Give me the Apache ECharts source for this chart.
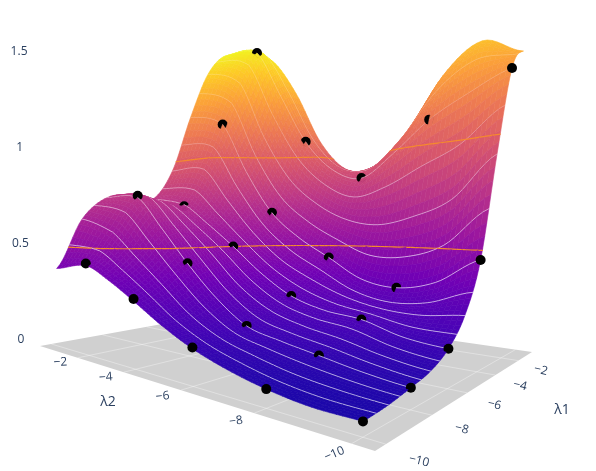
<!DOCTYPE html>
<html>
<head>
<meta charset="utf-8">
<script src="https://cdn.jsdelivr.net/npm/echarts@6/dist/echarts.min.js"></script>
<style>html,body{margin:0;background:#fff}#main{width:596px;height:471px}</style>
</head>
<body>
<div id="main"></div>
<script>
// values
var lambda1 = [-10, -9, -8, -7, -6, -5, -4, -3, -2, -1];
var lambda2 = [-10, -9, -8, -7, -6, -5, -4, -3, -2, -0.5];
// one row per lambda1, one column per lambda2
var surfaceZ = [
  [0.05, 0.05, 0.07, 0.105, 0.155, 0.225, 0.31, 0.39, 0.45, 0.42],
  [0.06, 0.07, 0.09, 0.125, 0.17, 0.25, 0.37, 0.49, 0.61, 0.68],
  [0.08, 0.10, 0.13, 0.16, 0.20, 0.31, 0.46, 0.63, 0.79, 0.80],
  [0.105, 0.13, 0.17, 0.20, 0.25, 0.35, 0.50, 0.64, 0.77, 0.82],
  [0.16, 0.18, 0.23, 0.25, 0.30, 0.40, 0.53, 0.65, 0.76, 0.80],
  [0.27, 0.25, 0.26, 0.30, 0.37, 0.46, 0.60, 0.78, 0.97, 0.98],
  [0.49, 0.38, 0.34, 0.37, 0.47, 0.57, 0.71, 0.95, 1.25, 1.33],
  [0.95, 0.76, 0.68, 0.64, 0.67, 0.76, 0.91, 1.17, 1.52, 1.63],
  [1.35, 1.27, 1.17, 1.02, 0.90, 0.96, 1.14, 1.44, 1.74, 1.78],
  [1.46, 1.55, 1.42, 1.14, 0.98, 0.97, 1.15, 1.48, 1.72, 1.79]
];
var sampleLambda1 = [-10, -8, -6, -4, -2];
var sampleLambda2 = [-10, -8, -6, -4, -2];
var sampleZ = [
  [0.05, 0.07, 0.16, 0.32, 0.46],
  [0.08, 0.13, 0.20, 0.46, 0.80],
  [0.16, 0.23, 0.30, 0.53, 0.75],
  [0.49, 0.34, 0.47, 0.71, 1.25],
  [1.35, 1.17, 0.90, 1.14, 1.74]
];
var contourLambda1 = [-9.5, -9, -8.5, -8, -7.5, -7, -6.5, -6, -5.5, -5, -4.5, -4, -3.5, -3, -2.5, -2, -1.5];
var contourZ = [0.53, 1.04];
var tickLambda = [-2, -4, -6, -8, -10];
var tickZ = [0, 0.5, 1, 1.5];
var plasma = ['#0d0887', '#46039f', '#7201a8', '#9c179e', '#bd3786', '#d8576b', '#ed7953', '#fb9f3a', '#fdca26', '#f0f921'];

var zMax = 1.8;
var sub = 8;
var textColor = '#2a3f5f';
var font = '12px "Open Sans"';

// camera: floor corners on screen plus vertical vanishing point
var range1 = [-10.4, -0.6], range2 = [-10.4, 0];
var cam = (function () {
  var F = [375, 451], R = [532, 352], B = [240, 310], L = [40, 346];
  var dx1 = R[0] - B[0], dx2 = L[0] - B[0], sx = F[0] - R[0] + B[0] - L[0];
  var dy1 = R[1] - B[1], dy2 = L[1] - B[1], sy = F[1] - R[1] + B[1] - L[1];
  var den = dx1 * dy2 - dx2 * dy1;
  var g = (sx * dy2 - dx2 * sy) / den, h = (dx1 * sy - sx * dy1) / den;
  var C = -288 / ((5700 - 58) * 1.5) * (h + 1);
  return {
    a: R[0] - F[0] + g * R[0], b: L[0] - F[0] + h * L[0], c: F[0],
    d: R[1] - F[1] + g * R[1], e: L[1] - F[1] + h * L[1], f: F[1],
    g: g, h: h, A: 298 * C, B: 5700 * C, C: C
  };
})();

function projectST(s, t, z) {
  var w = cam.g * s + cam.h * t + 1 + z * cam.C;
  return [
    (cam.a * s + cam.b * t + cam.c + z * cam.A) / w,
    (cam.d * s + cam.e * t + cam.f + z * cam.B) / w,
    w
  ];
}
function sOf(l) { return (l - range1[0]) / (range1[1] - range1[0]); }
function tOf(l) { return (l - range2[0]) / (range2[1] - range2[0]); }
function project(l1, l2, z) { return projectST(sOf(l1), tOf(l2), z); }

function cr(p0, p1, p2, p3, u) {
  return 0.5 * (2 * p1 + (p2 - p0) * u + (2 * p0 - 5 * p1 + 4 * p2 - p3) * u * u + (3 * p1 - p0 - 3 * p2 + p3) * u * u * u);
}
function at(arr, i) { return arr[Math.max(0, Math.min(arr.length - 1, i))]; }
// smooth drawing between the read values, like smooth:true on a line
function smoothZ(fi, fj) {
  var i = Math.min(Math.floor(fi), lambda1.length - 2), j = Math.min(Math.floor(fj), lambda2.length - 2);
  var u = fi - i, v = fj - j, col = [];
  for (var k = -1; k <= 2; k++) {
    var row = at(surfaceZ, i + k);
    col.push(cr(at(row, j - 1), at(row, j), at(row, j + 1), at(row, j + 2), v));
  }
  return cr(col[0], col[1], col[2], col[3], u);
}
function lerpAxis(arr, f) {
  var i = Math.min(Math.floor(f), arr.length - 2);
  return arr[i] + (arr[i + 1] - arr[i]) * (f - i);
}
function hex(c) { return [parseInt(c.substr(1, 2), 16), parseInt(c.substr(3, 2), 16), parseInt(c.substr(5, 2), 16)]; }
var plasmaRgb = plasma.map(hex);
function colorOf(z) {
  var r = Math.max(0, Math.min(0.9999, z / zMax));
  var t = r * (plasma.length - 1);
  var i = Math.floor(t), f = t - i, a = plasmaRgb[i], b = plasmaRgb[i + 1];
  // low part of the surface is lit a bit in the reference
  var lift = 1 + 0.22 * Math.max(0, 1 - r * 3);
  return 'rgb(' + Math.round(a[0] + (b[0] - a[0]) * f) + ',' + Math.round(a[1] + (b[1] - a[1]) * f) + ',' + Math.min(255, Math.round((a[2] + (b[2] - a[2]) * f) * lift)) + ')';
}

// fine mesh for drawing
var nI = (lambda1.length - 1) * sub, nJ = (lambda2.length - 1) * sub, mesh = [];
for (var a = 0; a <= nI; a++) {
  mesh.push([]);
  for (var b = 0; b <= nJ; b++) {
    var z = smoothZ(a / sub, b / sub);
    var l1 = lerpAxis(lambda1, a / sub), l2 = lerpAxis(lambda2, b / sub);
    var p = project(l1, l2, z);
    mesh[a].push({ l1: l1, z: z, x: p[0], y: p[1], w: p[2] });
  }
}

function levelSegment(q, level) {
  var pts = [];
  for (var n = 0; n < 4; n++) {
    var p0 = q[n], p1 = q[(n + 1) % 4];
    if ((p0.z - level) * (p1.z - level) < 0) {
      var f = (level - p0.z) / (p1.z - p0.z);
      pts.push([p0.x + (p1.x - p0.x) * f, p0.y + (p1.y - p0.y) * f]);
    }
  }
  return pts.length >= 2 ? pts.slice(0, 2) : null;
}

var items = [];
for (a = 0; a < nI; a++) {
  for (b = 0; b < nJ; b++) {
    var q = [mesh[a][b], mesh[a + 1][b], mesh[a + 1][b + 1], mesh[a][b + 1]];
    var seg = [];
    if (contourLambda1.indexOf(q[1].l1) >= 0) {
      // the white lines fade out higher up on the surface
      var alpha = 0.7 - 0.5 * Math.min(1, Math.max(0, (q[1].z - 0.5) / 0.7));
      seg.push({ pts: [[q[1].x, q[1].y], [q[2].x, q[2].y]], color: 'rgba(255,255,255,' + alpha.toFixed(2) + ')', width: 0.9 });
    }
    contourZ.forEach(function (lv) {
      var s = levelSegment(q, lv);
      if (s) seg.push({ pts: s, color: '#f58a2e', width: 1.2 });
    });
    items.push({
      kind: 'cell', key: (q[0].w + q[1].w + q[2].w + q[3].w) / 4, q: q,
      color: colorOf((q[0].z + q[1].z + q[2].z + q[3].z) / 4), seg: seg
    });
  }
}
sampleLambda1.forEach(function (v1, i) {
  sampleLambda2.forEach(function (v2, j) {
    var p = project(v1, v2, sampleZ[i][j]);
    // the dots sit half sunk in the surface, nearer cells cover their lower part
    items.push({ kind: 'dot', key: p[2] - 0.002, x: p[0], y: p[1] });
  });
});
items.sort(function (m, n) { return n.key - m.key; });

function renderSurface(params, api) {
  var it = items[params.dataIndex];
  if (it.kind === 'dot') {
    var c = api.coord([it.x, it.y]);
    return { type: 'circle', shape: { cx: c[0], cy: c[1], r: 5 }, style: { fill: '#000' } };
  }
  var children = [{
    type: 'polygon',
    shape: { points: it.q.map(function (p) { return api.coord([p.x, p.y]); }) },
    style: { fill: it.color, stroke: it.color, lineWidth: 0.6 }
  }];
  it.seg.forEach(function (s) {
    children.push({
      type: 'line',
      shape: { x1: s.pts[0][0], y1: s.pts[0][1], x2: s.pts[1][0], y2: s.pts[1][1] },
      style: { stroke: s.color, lineWidth: s.width, lineCap: 'round' }
    });
  });
  return { type: 'group', children: children };
}

function renderFloor(params, api) {
  var corners = [[0, 0], [1, 0], [1, 1], [0, 1]].map(function (st) { return projectST(st[0], st[1], 0); });
  var children = [{
    type: 'polygon',
    shape: { points: corners.map(function (p) { return api.coord(p); }) },
    style: { fill: '#d0d0d0' }
  }];
  tickLambda.forEach(function (v) {
    var a1 = api.coord(projectST(sOf(v), 0, 0)), a2 = api.coord(projectST(sOf(v), 1, 0));
    var b1 = api.coord(projectST(0, tOf(v), 0)), b2 = api.coord(projectST(1, tOf(v), 0));
    children.push({ type: 'line', shape: { x1: a1[0], y1: a1[1], x2: a2[0], y2: a2[1] }, style: { stroke: 'rgba(255,255,255,0.35)', lineWidth: 1 } });
    children.push({ type: 'line', shape: { x1: b1[0], y1: b1[1], x2: b2[0], y2: b2[1] }, style: { stroke: 'rgba(255,255,255,0.35)', lineWidth: 1 } });
  });
  return { type: 'group', children: children };
}

function textAt(api, str, p, f, rot) {
  var c = api.coord(p);
  return {
    type: 'text', x: c[0], y: c[1], rotation: rot || 0,
    style: { text: str, font: f || font, fill: textColor, align: 'center', verticalAlign: 'middle' }
  };
}
function tickText(v) { return String(v).replace('-', '\u2212'); }

function renderLabels(params, api) {
  var kids = [];
  tickLambda.forEach(function (v, i) {
    var p2 = projectST(-0.055, tOf(v), 0);
    kids.push(textAt(api, tickText(v), [p2[0] - 1, p2[1] + 1], font, [0.05, 0.08, 0.1, 0.15, 0.4][i]));
    var p1 = projectST(sOf(v), -0.06, 0);
    kids.push(textAt(api, tickText(v), [p1[0] - 6, p1[1] + 5], font, -0.25));
  });
  tickZ.forEach(function (v) {
    kids.push(textAt(api, String(v), [21 - v * 1.3, 340 - v * 192.5]));
  });
  kids.push(textAt(api, '\u03bb2', [108, 402], '14px "Open Sans"'));
  kids.push(textAt(api, '\u03bb1', [562, 410], '14px "Open Sans"'));
  return { type: 'group', children: kids };
}

var chart = echarts.init(document.getElementById('main'));
chart.setOption({
  animation: false,
  backgroundColor: '#fff',
  grid: { left: 0, right: 0, top: 0, bottom: 0 },
  xAxis: { type: 'value', min: 0, max: 596, show: false },
  yAxis: { type: 'value', min: 0, max: 471, inverse: true, show: false },
  series: [
    { type: 'custom', coordinateSystem: 'cartesian2d', clip: false, silent: true, data: [[0, 0]], renderItem: renderFloor, z: 1 },
    {
      type: 'custom', coordinateSystem: 'cartesian2d', clip: false, silent: true, progressive: 0, z: 2,
      data: items.map(function (it) { return [it.kind === 'dot' ? it.x : it.q[0].x, it.kind === 'dot' ? it.y : it.q[0].y]; }),
      renderItem: renderSurface
    },
    { type: 'custom', coordinateSystem: 'cartesian2d', clip: false, silent: true, data: [[0, 0]], renderItem: renderLabels, z: 3 }
  ]
});
</script>
</body>
</html>
